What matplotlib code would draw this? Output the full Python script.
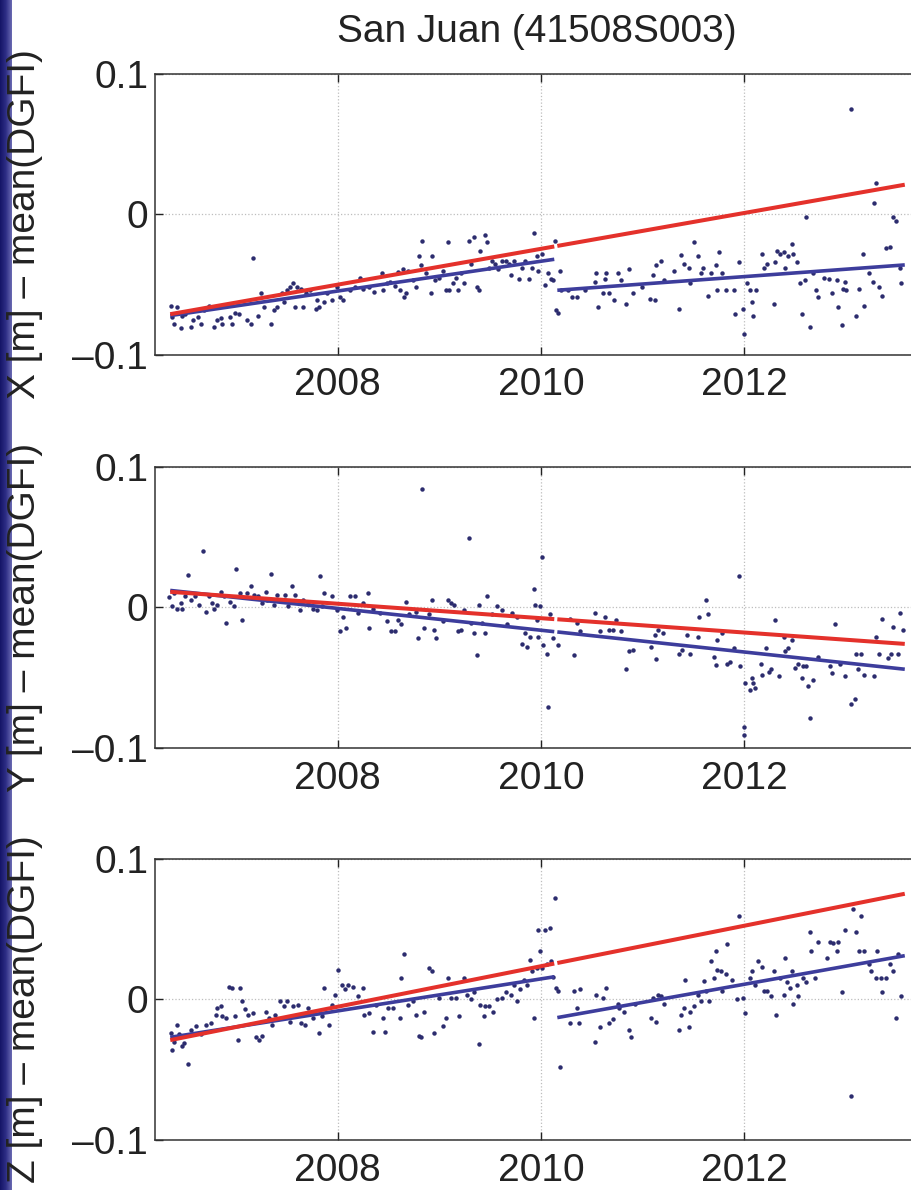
import matplotlib.pyplot as plt
import numpy as np
from matplotlib.colors import LinearSegmentedColormap

TITLE = "San Juan (41508S003)"
COMPONENTS = ["X", "Y", "Z"]
X_TICKS = [2008, 2010, 2012]
Y_TICKS = [-0.1, 0, 0.1]
Y_TICK_LABELS = ["\u20130.1", "0", "0.1"]

# weekly station coordinates minus the DGFI mean (metres)
X_YEARS = [
    2006.36, 2006.37, 2006.39, 2006.42, 2006.46, 2006.47, 2006.50, 2006.55, 2006.57, 2006.62,
    2006.65, 2006.68, 2006.73, 2006.78, 2006.81, 2006.85, 2006.86, 2006.94, 2006.96, 2006.99,
    2007.03, 2007.11, 2007.14, 2007.16, 2007.21, 2007.24, 2007.27, 2007.34, 2007.37, 2007.40,
    2007.45, 2007.47, 2007.50, 2007.53, 2007.56, 2007.58, 2007.60, 2007.64, 2007.66, 2007.69,
    2007.73, 2007.78, 2007.79, 2007.81, 2007.86, 2007.89, 2007.94, 2007.99, 2008.02, 2008.05,
    2008.12, 2008.17, 2008.22, 2008.25, 2008.31, 2008.36, 2008.43, 2008.44, 2008.48, 2008.51,
    2008.56, 2008.59, 2008.61, 2008.64, 2008.65, 2008.67, 2008.69, 2008.74, 2008.77, 2008.80,
    2008.82, 2008.83, 2008.87, 2008.92, 2008.93, 2008.96, 2009.00, 2009.03, 2009.06, 2009.08,
    2009.09, 2009.13, 2009.16, 2009.18, 2009.21, 2009.24, 2009.29, 2009.31, 2009.34, 2009.37,
    2009.39, 2009.40, 2009.45, 2009.47, 2009.49, 2009.52, 2009.55, 2009.58, 2009.62, 2009.65,
    2009.68, 2009.70, 2009.73, 2009.78, 2009.81, 2009.84, 2009.88, 2009.91, 2009.93, 2009.96,
    2009.97, 2010.01, 2010.04, 2010.07, 2010.10, 2010.12, 2010.14, 2010.15, 2010.17, 2010.19,
    2010.20, 2010.27, 2010.30, 2010.35, 2010.43, 2010.53, 2010.54, 2010.56, 2010.61, 2010.63,
    2010.64, 2010.67, 2010.72, 2010.76, 2010.79, 2010.84, 2010.87, 2010.90, 2010.99, 2011.07,
    2011.10, 2011.12, 2011.13, 2011.18, 2011.21, 2011.31, 2011.36, 2011.38, 2011.41, 2011.46,
    2011.47, 2011.51, 2011.54, 2011.57, 2011.59, 2011.64, 2011.67, 2011.72, 2011.73, 2011.75,
    2011.78, 2011.82, 2011.90, 2011.91, 2011.95, 2011.99, 2012.00, 2012.03, 2012.06, 2012.08,
    2012.09, 2012.12, 2012.17, 2012.19, 2012.22, 2012.29, 2012.30, 2012.32, 2012.35, 2012.39,
    2012.40, 2012.43, 2012.47, 2012.48, 2012.52, 2012.55, 2012.57, 2012.60, 2012.61, 2012.65,
    2012.68, 2012.71, 2012.73, 2012.78, 2012.83, 2012.86, 2012.91, 2012.92, 2012.96, 2012.97,
    2012.99, 2013.00, 2013.05, 2013.10, 2013.13, 2013.17, 2013.18, 2013.23, 2013.27, 2013.28,
    2013.30, 2013.33, 2013.36, 2013.40, 2013.43, 2013.46, 2013.49, 2013.53, 2013.54,
]
X_VALUES = [
    -0.065, -0.073, -0.078, -0.066, -0.081, -0.072, -0.071, -0.080, -0.075, -0.073,
    -0.078, -0.068, -0.065, -0.080, -0.075, -0.074, -0.078, -0.073, -0.078, -0.070,
    -0.071, -0.075, -0.078, -0.031, -0.072, -0.056, -0.066, -0.078, -0.068, -0.066,
    -0.056, -0.062, -0.054, -0.052, -0.049, -0.066, -0.052, -0.053, -0.066, -0.056,
    -0.054, -0.067, -0.061, -0.066, -0.062, -0.056, -0.061, -0.052, -0.059, -0.061,
    -0.054, -0.052, -0.045, -0.053, -0.052, -0.055, -0.042, -0.054, -0.049, -0.048,
    -0.051, -0.041, -0.054, -0.039, -0.059, -0.056, -0.040, -0.047, -0.052, -0.030,
    -0.036, -0.019, -0.042, -0.056, -0.030, -0.047, -0.045, -0.040, -0.054, -0.020,
    -0.054, -0.049, -0.045, -0.054, -0.042, -0.049, -0.019, -0.035, -0.016, -0.052,
    -0.054, -0.026, -0.015, -0.020, -0.038, -0.033, -0.035, -0.039, -0.033, -0.033,
    -0.035, -0.043, -0.033, -0.046, -0.038, -0.033, -0.046, -0.038, -0.013, -0.030,
    -0.040, -0.028, -0.050, -0.042, -0.046, -0.047, -0.019, -0.068, -0.070, -0.040,
    -0.054, -0.054, -0.059, -0.059, -0.054, -0.048, -0.042, -0.066, -0.056, -0.046,
    -0.042, -0.056, -0.061, -0.042, -0.047, -0.064, -0.039, -0.056, -0.052, -0.060,
    -0.043, -0.061, -0.036, -0.033, -0.047, -0.040, -0.067, -0.029, -0.035, -0.038,
    -0.049, -0.020, -0.030, -0.042, -0.038, -0.058, -0.042, -0.036, -0.054, -0.027,
    -0.042, -0.054, -0.054, -0.071, -0.034, -0.067, -0.085, -0.049, -0.054, -0.062,
    -0.072, -0.054, -0.028, -0.038, -0.035, -0.064, -0.034, -0.026, -0.028, -0.027,
    -0.038, -0.030, -0.021, -0.028, -0.034, -0.049, -0.071, -0.047, -0.002, -0.080,
    -0.042, -0.054, -0.059, -0.045, -0.046, -0.056, -0.047, -0.066, -0.079, -0.053,
    -0.048, -0.054, 0.075, -0.072, -0.053, -0.028, -0.065, -0.042, -0.048, 0.008,
    0.022, -0.052, -0.058, -0.024, -0.023, -0.002, -0.005, -0.038, -0.049,
]

Y_YEARS = [
    2006.34, 2006.37, 2006.39, 2006.42, 2006.46, 2006.47, 2006.50, 2006.52, 2006.55, 2006.59,
    2006.63, 2006.67, 2006.70, 2006.73, 2006.76, 2006.78, 2006.81, 2006.85, 2006.88, 2006.90,
    2006.94, 2006.98, 2007.00, 2007.04, 2007.06, 2007.11, 2007.14, 2007.17, 2007.21, 2007.25,
    2007.29, 2007.30, 2007.34, 2007.37, 2007.40, 2007.45, 2007.48, 2007.51, 2007.55, 2007.58,
    2007.63, 2007.66, 2007.71, 2007.76, 2007.79, 2007.82, 2007.84, 2007.86, 2007.94, 2007.99,
    2008.02, 2008.05, 2008.08, 2008.12, 2008.17, 2008.20, 2008.25, 2008.30, 2008.31, 2008.35,
    2008.41, 2008.48, 2008.52, 2008.56, 2008.59, 2008.62, 2008.67, 2008.70, 2008.77, 2008.79,
    2008.83, 2008.85, 2008.90, 2008.93, 2008.95, 2008.97, 2009.03, 2009.08, 2009.11, 2009.14,
    2009.18, 2009.21, 2009.24, 2009.29, 2009.31, 2009.34, 2009.37, 2009.39, 2009.42, 2009.45,
    2009.47, 2009.52, 2009.57, 2009.62, 2009.66, 2009.71, 2009.76, 2009.81, 2009.84, 2009.86,
    2009.89, 2009.93, 2009.94, 2009.96, 2009.97, 2009.99, 2010.01, 2010.02, 2010.06, 2010.07,
    2010.09, 2010.12, 2010.17, 2010.28, 2010.32, 2010.35, 2010.38, 2010.53, 2010.58, 2010.63,
    2010.67, 2010.71, 2010.74, 2010.79, 2010.84, 2010.87, 2010.90, 2011.08, 2011.12, 2011.13,
    2011.15, 2011.20, 2011.36, 2011.39, 2011.44, 2011.47, 2011.54, 2011.55, 2011.62, 2011.64,
    2011.70, 2011.72, 2011.73, 2011.78, 2011.83, 2011.86, 2011.90, 2011.95, 2011.96, 2012.00,
    2012.00, 2012.01, 2012.06, 2012.08, 2012.09, 2012.11, 2012.16, 2012.17, 2012.21, 2012.24,
    2012.26, 2012.30, 2012.34, 2012.39, 2012.40, 2012.43, 2012.47, 2012.50, 2012.53, 2012.57,
    2012.58, 2012.61, 2012.63, 2012.65, 2012.68, 2012.73, 2012.84, 2012.86, 2012.89, 2012.94,
    2012.99, 2013.05, 2013.09, 2013.10, 2013.12, 2013.15, 2013.18, 2013.28, 2013.30, 2013.33,
    2013.36, 2013.41, 2013.44, 2013.46, 2013.51, 2013.53, 2013.56,
]
Y_VALUES = [
    0.007, 0.001, 0.010, -0.001, 0.003, -0.001, 0.008, 0.023, 0.005, 0.008,
    0.002, 0.040, -0.003, 0.008, 0.003, -0.001, 0.002, 0.011, 0.008, -0.011,
    0.004, 0.001, 0.027, 0.010, -0.009, 0.010, 0.015, 0.009, 0.008, 0.003,
    0.011, 0.005, 0.024, 0.002, 0.009, 0.005, 0.009, 0.001, 0.015, 0.009,
    -0.002, 0.005, 0.003, -0.001, -0.002, 0.022, 0.001, 0.010, 0.008, -0.002,
    -0.017, -0.007, -0.015, 0.008, 0.008, -0.004, 0.003, 0.010, -0.015, -0.001,
    -0.004, -0.010, -0.017, -0.017, -0.009, -0.012, 0.004, -0.005, -0.003, -0.022,
    0.084, -0.015, -0.005, 0.005, -0.016, -0.022, -0.010, 0.005, 0.003, 0.002,
    -0.017, -0.016, -0.002, 0.049, -0.011, -0.018, -0.034, 0.002, -0.011, -0.018,
    0.008, -0.005, 0.001, -0.002, -0.012, -0.004, -0.007, -0.026, -0.018, -0.028,
    -0.021, 0.013, 0.002, -0.009, -0.021, 0.001, 0.036, -0.027, -0.033, -0.071,
    -0.005, -0.022, -0.027, -0.008, -0.034, -0.011, -0.017, -0.004, -0.017, -0.007,
    -0.016, -0.016, -0.009, -0.017, -0.044, -0.031, -0.030, -0.028, -0.020, -0.037,
    -0.016, -0.018, -0.033, -0.030, -0.020, -0.033, -0.021, -0.007, 0.005, -0.005,
    -0.035, -0.041, -0.023, -0.018, -0.040, -0.039, -0.029, 0.022, -0.042, -0.085,
    -0.091, -0.054, -0.059, -0.050, -0.054, -0.057, -0.040, -0.048, -0.029, -0.046,
    -0.044, -0.009, -0.049, -0.021, -0.031, -0.029, -0.023, -0.043, -0.040, -0.050,
    -0.042, -0.042, -0.056, -0.079, -0.052, -0.035, -0.042, -0.047, -0.012, -0.040,
    -0.049, -0.069, -0.065, -0.033, -0.044, -0.033, -0.048, -0.049, -0.021, -0.033,
    -0.008, -0.036, -0.033, -0.014, -0.033, -0.004, -0.016,
]

Z_YEARS = [
    2006.36, 2006.37, 2006.39, 2006.42, 2006.44, 2006.47, 2006.49, 2006.52, 2006.55, 2006.60,
    2006.65, 2006.70, 2006.75, 2006.80, 2006.81, 2006.85, 2006.86, 2006.90, 2006.93, 2006.96,
    2006.99, 2007.02, 2007.04, 2007.06, 2007.09, 2007.12, 2007.16, 2007.19, 2007.22, 2007.25,
    2007.29, 2007.32, 2007.35, 2007.38, 2007.43, 2007.47, 2007.50, 2007.53, 2007.56, 2007.61,
    2007.64, 2007.68, 2007.71, 2007.76, 2007.81, 2007.84, 2007.86, 2007.91, 2007.94, 2007.97,
    2008.00, 2008.04, 2008.07, 2008.10, 2008.15, 2008.20, 2008.25, 2008.26, 2008.31, 2008.35,
    2008.38, 2008.44, 2008.46, 2008.49, 2008.54, 2008.61, 2008.62, 2008.65, 2008.69, 2008.74,
    2008.77, 2008.80, 2008.82, 2008.85, 2008.90, 2008.93, 2008.95, 2009.00, 2009.03, 2009.06,
    2009.08, 2009.11, 2009.16, 2009.19, 2009.24, 2009.27, 2009.31, 2009.34, 2009.39, 2009.40,
    2009.44, 2009.45, 2009.49, 2009.53, 2009.57, 2009.62, 2009.65, 2009.70, 2009.73, 2009.76,
    2009.79, 2009.83, 2009.86, 2009.89, 2009.91, 2009.93, 2009.96, 2009.97, 2009.99, 2010.01,
    2010.04, 2010.06, 2010.09, 2010.10, 2010.12, 2010.14, 2010.15, 2010.17, 2010.19, 2010.28,
    2010.32, 2010.35, 2010.37, 2010.38, 2010.53, 2010.54, 2010.58, 2010.61, 2010.64, 2010.67,
    2010.71, 2010.76, 2010.77, 2010.82, 2010.87, 2010.89, 2010.92, 2011.08, 2011.10, 2011.13,
    2011.15, 2011.18, 2011.21, 2011.36, 2011.38, 2011.41, 2011.42, 2011.46, 2011.47, 2011.51,
    2011.54, 2011.57, 2011.60, 2011.62, 2011.65, 2011.67, 2011.70, 2011.72, 2011.73, 2011.77,
    2011.78, 2011.82, 2011.83, 2011.88, 2011.93, 2011.95, 2011.99, 2012.01, 2012.06, 2012.08,
    2012.11, 2012.14, 2012.17, 2012.19, 2012.22, 2012.26, 2012.29, 2012.31, 2012.35, 2012.39,
    2012.40, 2012.42, 2012.45, 2012.47, 2012.48, 2012.52, 2012.53, 2012.58, 2012.61, 2012.65,
    2012.66, 2012.70, 2012.73, 2012.81, 2012.84, 2012.87, 2012.91, 2012.92, 2012.96, 2012.99,
    2013.05, 2013.07, 2013.10, 2013.13, 2013.15, 2013.18, 2013.23, 2013.25, 2013.30, 2013.31,
    2013.35, 2013.36, 2013.40, 2013.43, 2013.46, 2013.49, 2013.51, 2013.54,
]
Z_VALUES = [
    -0.024, -0.036, -0.030, -0.018, -0.025, -0.033, -0.031, -0.046, -0.022, -0.019,
    -0.025, -0.018, -0.017, -0.011, -0.006, -0.005, -0.012, -0.013, 0.009, 0.008,
    -0.012, -0.029, 0.008, -0.001, -0.007, -0.011, -0.010, -0.027, -0.029, -0.026,
    -0.009, -0.013, -0.018, -0.011, -0.001, -0.005, -0.001, -0.016, -0.005, -0.004,
    -0.017, -0.018, -0.006, -0.013, -0.024, -0.012, 0.008, -0.018, -0.004, 0.003,
    0.021, 0.010, 0.007, 0.010, 0.009, 0.002, 0.008, -0.011, -0.010, -0.023,
    -0.004, -0.013, -0.023, -0.006, -0.006, -0.013, 0.015, 0.032, -0.004, -0.001,
    -0.011, -0.026, -0.027, -0.009, 0.022, 0.020, -0.024, 0.001, -0.019, -0.013,
    0.015, 0.001, 0.001, -0.012, 0.015, 0.003, 0.000, 0.005, -0.032, -0.004,
    -0.012, -0.005, -0.005, -0.009, 0.000, 0.001, 0.005, 0.003, 0.010, -0.001,
    0.007, 0.014, 0.010, 0.028, 0.020, -0.013, 0.022, 0.049, 0.034, 0.022,
    0.049, 0.025, 0.051, 0.027, 0.016, 0.072, 0.008, 0.006, -0.048, -0.017,
    0.006, -0.006, -0.017, 0.007, -0.030, 0.003, -0.020, 0.001, 0.008, -0.017,
    -0.014, -0.003, -0.006, -0.009, -0.022, -0.027, -0.003, -0.013, 0.001, -0.016,
    0.003, 0.002, -0.003, -0.022, -0.011, -0.006, 0.014, -0.020, -0.009, -0.005,
    0.003, -0.001, 0.013, 0.006, -0.001, 0.027, 0.015, 0.034, 0.021, 0.020,
    0.006, 0.018, 0.039, 0.014, 0.000, 0.059, 0.001, -0.010, 0.015, 0.020,
    0.010, 0.027, 0.023, 0.006, 0.006, 0.002, 0.020, -0.011, 0.015, 0.003,
    0.029, 0.012, 0.008, 0.020, -0.003, 0.010, 0.002, 0.015, 0.012, 0.048,
    0.034, 0.015, 0.041, 0.029, 0.041, 0.040, 0.034, 0.041, 0.005, 0.049,
    -0.069, 0.064, 0.048, 0.034, 0.059, 0.034, 0.025, 0.020, 0.015, 0.034,
    0.015, 0.005, 0.015, 0.025, 0.020, -0.013, 0.032, 0.002,
]

# linear trends: two pieces split at the 2010 discontinuity
FIT_YEARS = [2006.35, 2010.13, 2010.16, 2013.58]
X_TREND = [-0.072, -0.032, -0.054, -0.036]
Y_TREND = [0.012, -0.0173, -0.0175, -0.044]
Z_TREND = [-0.027, 0.016, -0.013, 0.031]
X_REFERENCE = [-0.071, -0.0229, -0.0225, 0.021]
Y_REFERENCE = [0.011, -0.0084, -0.0085, -0.026]
Z_REFERENCE = [-0.029, 0.0254, 0.0258, 0.075]

DOT_COLOR = "#2c2c6e"
TREND_COLOR = "#3d3d9c"
REF_COLOR = "#e4312b"

plt.rcParams["font.family"] = ["Liberation Sans", "DejaVu Sans"]

fig = plt.figure(figsize=(9.12, 11.9), dpi=100)

# dark slide border on the left edge
strip = fig.add_axes([0, 0, 12 / 912, 1])
grad = np.linspace(0, 1, 50).reshape(1, -1)
cmap = LinearSegmentedColormap.from_list("edge", ["#141466", "#2e2e86", "#6a6ab2"])
strip.imshow(grad, aspect="auto", cmap=cmap, extent=[0, 1, 0, 1])
strip.axis("off")

panels = [
    (X_YEARS, X_VALUES, X_TREND, X_REFERENCE, 0.7017),
    (Y_YEARS, Y_VALUES, Y_TREND, Y_REFERENCE, 0.3714),
    (Z_YEARS, Z_VALUES, Z_TREND, Z_REFERENCE, 0.0420),
]

for name, (yrs, vals, trend, ref, bottom) in zip(COMPONENTS, panels):
    ax = fig.add_axes([155 / 912, bottom, 764 / 912, 0.2365])
    ax.plot(yrs, vals, "o", ms=3.2, color=DOT_COLOR, mec="none", zorder=2)
    for a, b in [(0, 2), (2, 4)]:
        ax.plot(FIT_YEARS[a:b], trend[a:b], color=TREND_COLOR, lw=2.6,
                solid_capstyle="butt", zorder=3)
        ax.plot(FIT_YEARS[a:b], ref[a:b], color=REF_COLOR, lw=2.9,
                solid_capstyle="butt", zorder=4)

    ax.set_xlim(2006.2, 2013.72)
    ax.set_ylim(-0.1, 0.1)
    ax.set_xticks(X_TICKS)
    ax.set_yticks(Y_TICKS)
    ax.set_yticklabels(Y_TICK_LABELS)
    ax.tick_params(direction="in", length=6, width=1, colors="#222222",
                   labelsize=28, top=True, right=True)
    ax.tick_params(axis="x", pad=9)
    ax.tick_params(axis="y", pad=5)
    ax.grid(True, linestyle=":", color="#bdbdbd", lw=0.9)
    for sp in ax.spines.values():
        sp.set_color("#333333")
        sp.set_linewidth(1.1)

    ax.set_ylabel(f"{name} [m] \u2013 mean(DGFI)", fontsize=28, color="#222222")
    ax.yaxis.set_label_coords(-0.146, 0.465)

fig.text(537 / 912, 1 - 32 / 1190, TITLE, ha="center", va="center",
         fontsize=28, color="#222222")

fig.savefig("out.png", dpi=100)
